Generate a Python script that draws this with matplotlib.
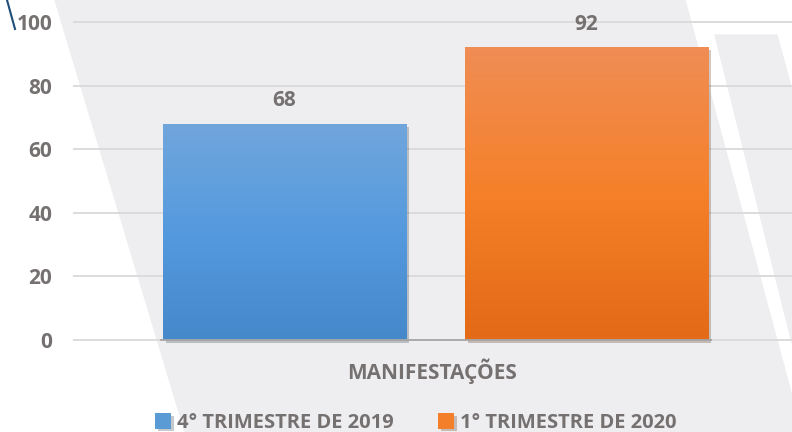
import numpy as np
import matplotlib.pyplot as plt
from matplotlib.colors import LinearSegmentedColormap
from matplotlib.patches import Polygon
from matplotlib.lines import Line2D
import matplotlib.patheffects as pe

# dados do grafico
categorias = ["MANIFESTAÇÕES"]
series = ["4° TRIMESTRE DE 2019", "1° TRIMESTRE DE 2020"]
valores = [68, 92]
yticks = [0, 20, 40, 60, 80, 100]

# estilos
cinza_texto = "#767171"
gradientes = [["#71a6dc", "#559ade", "#4589cb"],
              ["#f08d55", "#f58029", "#e36a17"]]
cores_meio = ["#5b9bd5", "#f47f2b"]
deslocamentos = [-0.206, 0.214]
largura = 0.338

plt.rcParams['font.family'] = ['Open Sans', 'DejaVu Sans']

W, H = 792, 432
fig = plt.figure(figsize=(W / 100, H / 100), dpi=100)
fig.patch.set_facecolor("white")


# fundo decorativo (coordenadas em pixels, y de cima para baixo)
def px(pts):
    return [(x / W, 1 - y / H) for x, y in pts]


fundo = "#eeeef0"
fig.patches.append(Polygon(px([(55, 0), (685, 0), (792, 396), (792, 432), (185, 432)]),
                           closed=True, transform=fig.transFigure, color=fundo, zorder=-10))
fig.patches.append(Polygon(px([(715, 35), (777, 35), (792, 90), (792, 343)]),
                           closed=True, transform=fig.transFigure, color=fundo, zorder=-10))
fig.lines.append(Line2D([7 / W, 15 / W], [1, 1 - 29 / H], transform=fig.transFigure,
                        color="#1f4e79", lw=1.5, zorder=-5))

# eixo: y=0 em 340px, y=100 em 22px
esc = (340 - 22) / 100
ymin, ymax = -2, 102
bottom_px = 340 + (0 - ymin) * esc
top_px = 22 - (ymax - 100) * esc
ax = fig.add_axes([73 / W, 1 - bottom_px / H, 1 - 73 / W, (bottom_px - top_px) / H])
ax.set_facecolor("none")
ax.set_xlim(-0.5, 0.5)
ax.set_ylim(ymin, ymax)

for s in ax.spines.values():
    s.set_visible(False)

for t in yticks:
    ax.axhline(t, color="#d9d9d9", lw=1.3, zorder=1)

barras = []
for i, (nome, v) in enumerate(zip(series, valores)):
    b = ax.bar(deslocamentos[i], v, width=largura, color=cores_meio[i], label=nome, zorder=2,
               path_effects=[pe.SimplePatchShadow(offset=(2, -2), alpha=0.25), pe.Normal()])[0]
    barras.append(b)
    cmap = LinearSegmentedColormap.from_list("g%d" % i, gradientes[i])
    grad = np.linspace(0, 1, 256).reshape(-1, 1)
    x0 = b.get_x()
    img = ax.imshow(grad, cmap=cmap, aspect="auto", origin="upper",
                    extent=[x0, x0 + largura, 0, v], zorder=3)
    img.set_clip_path(b)
    ax.text(deslocamentos[i], v + 4.0, str(v), ha="center", va="bottom",
            fontsize=15, fontweight="bold", color=cinza_texto, zorder=4)

# linha do eixo x sob as barras
xa = barras[0].get_x() - 0.004
xb = barras[1].get_x() + largura + 0.006
ax.hlines(0, xa, xb, color="#a6a6a6", lw=1.3, zorder=4)

ax.set_xlim(-0.5, 0.5)
ax.set_ylim(ymin, ymax)
ax.set_yticks(yticks)
ax.set_xticks([0])
ax.set_xticklabels(categorias)
ax.tick_params(axis="y", length=0, pad=15, labelsize=15, labelcolor=cinza_texto)
ax.tick_params(axis="x", length=0, pad=9, labelsize=15, labelcolor=cinza_texto)
for lab in ax.get_yticklabels() + ax.get_xticklabels():
    lab.set_fontweight("bold")

fig.legend(handles=barras, labels=series, loc="center", bbox_to_anchor=(416 / W, 1 - 423 / H),
           ncol=2, frameon=False, handlelength=0.8, handleheight=0.8, handletextpad=0.3,
           columnspacing=2.2, prop={"size": 14.5, "weight": "bold"}, labelcolor=cinza_texto)

fig.savefig("out.png", dpi=100, facecolor=fig.get_facecolor())
